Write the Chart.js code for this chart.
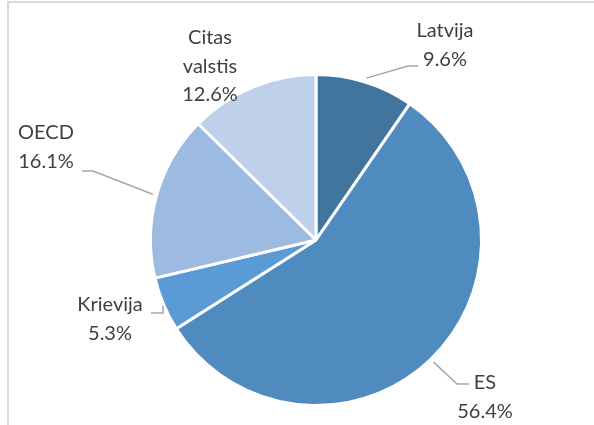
<!DOCTYPE html>
<html>
<head>
<meta charset="utf-8">
<script src="https://cdn.jsdelivr.net/npm/chart.js@4/dist/chart.umd.min.js"></script>
<style>
html,body{margin:0;padding:0;background:#fff;}
#wrap{position:relative;width:594px;height:425px;}
#frame{position:absolute;left:7px;top:1px;width:600px;height:440px;border-left:2px solid #d9d9d9;border-top:2px solid #d9d9d9;box-sizing:border-box;}
canvas{position:absolute;left:0;top:0;}
</style>
</head>
<body>
<div id="wrap"><div id="frame"></div><canvas id="c" width="594" height="425"></canvas></div>
<script>
const categories = ["Latvija", "ES", "Krievija", "OECD", "Citas valstis"];
const values = [9.6, 56.4, 5.3, 16.1, 12.6];
const colors = ["#42759E", "#4F8BBF", "#5B9BD5", "#9DBBE0", "#BED0EA"];

// label layout: text lines, text centre, leader elbow & end (null = no leader)
const labelLayout = [
  {lines:["Latvija","9.6%"], x:445, y:31, elbow:[408,66], end:[418,66]},
  {lines:["ES","56.4%"], x:485, y:383, elbow:[457,384], end:[469,384]},
  {lines:["Krievija","5.3%"], x:110, y:305, elbow:[163,313], end:[151,313], vertical:true},
  {lines:["OECD","16.1%"], x:46, y:133, elbow:[93,171], end:[82,171]},
  {lines:["Citas","valstis","12.6%"], x:210, y:38, elbow:null}
];

const labelPlugin = {
  id:'pieLabels',
  afterDraw(chart){
    const ctx = chart.ctx;
    const meta = chart.getDatasetMeta(0);
    ctx.save();
    meta.data.forEach((arc, i) => {
      const L = labelLayout[i];
      const p = arc.getProps(['x','y','startAngle','endAngle','outerRadius'], true);
      const mid = (p.startAngle + p.endAngle)/2;
      const r = p.outerRadius + 4;
      const sx = p.x + Math.cos(mid)*r, sy = p.y + Math.sin(mid)*r;
      if (L.elbow){
        ctx.strokeStyle = '#a6a6a6';
        ctx.lineWidth = 1.5;
        ctx.beginPath();
        if (L.vertical){
          ctx.moveTo(L.elbow[0], sy);
        } else {
          ctx.moveTo(sx, sy);
        }
        ctx.lineTo(L.elbow[0], L.elbow[1]);
        ctx.lineTo(L.end[0], L.end[1]);
        ctx.stroke();
      }
      ctx.fillStyle = '#404040';
      ctx.font = '20px Lato, "Open Sans", sans-serif';
      ctx.textAlign = 'center';
      ctx.textBaseline = 'middle';
      L.lines.forEach((t, k) => ctx.fillText(t, L.x, L.y + k*28.5));
    });
    ctx.restore();
  }
};

new Chart(document.getElementById('c'), {
  type:'pie',
  data:{
    labels:categories,
    datasets:[{data:values, backgroundColor:colors, borderColor:'#ffffff', borderWidth:3}]
  },
  options:{
    responsive:false,
    animation:false,
    layout:{padding:{left:149, right:111, top:73, bottom:18}},
    plugins:{legend:{display:false}, tooltip:{enabled:false}}
  },
  plugins:[labelPlugin]
});
</script>
</body>
</html>
